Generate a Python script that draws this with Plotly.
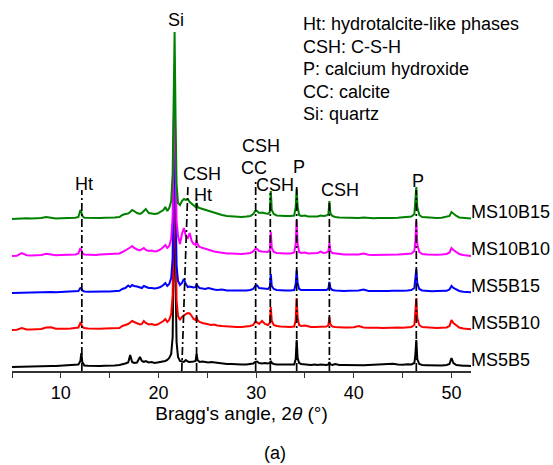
import plotly.graph_objects as go

# Diffraction angle grid (2-theta, degrees) shared by all patterns
two_theta = [
    5.0, 5.5, 6.0, 6.5, 7.0, 7.5, 8.0, 8.5, 9.0, 9.5, 10.0, 10.5, 11.0, 11.5,
    11.8, 12.0, 12.1, 12.2, 12.4,
    12.8, 13.2, 13.6, 14.0, 14.5, 15.0, 15.5, 16.0,
    16.3, 16.6, 16.9, 17.1, 17.3, 17.5, 17.8, 18.1, 18.3, 18.5, 18.7, 19.0, 19.3,
    19.6, 19.9, 20.2, 20.5, 20.7, 20.9, 21.1, 21.3,
    21.45, 21.55, 21.65, 21.75, 21.85,
    22.0, 22.2, 22.4, 22.6, 22.8, 23.0, 23.2, 23.4, 23.6, 23.8, 23.9, 24.0, 24.2,
    24.5, 24.8, 25.1, 25.4, 25.7, 26.0, 26.5, 27.0, 27.5, 28.0, 28.5, 29.0, 29.4, 29.7,
    29.9, 30.1, 30.3, 30.6, 30.9, 31.2, 31.4, 31.5, 31.6, 31.8, 32.1, 32.5, 33.0, 33.5, 33.9,
    34.05, 34.15, 34.25, 34.4, 34.6, 35.0, 35.3, 35.6, 36.0, 36.3, 36.6, 36.9, 37.2,
    37.4, 37.5, 37.6, 37.8, 38.1, 38.5,
    39.0, 39.5, 40.0, 40.5, 41.0, 41.5, 42.0, 42.5, 43.0, 43.5, 44.0, 44.5, 45.0, 45.5, 45.9, 46.2,
    46.3, 46.4, 46.5, 46.7, 47.0, 47.5, 48.0, 48.5, 49.0, 49.5, 49.8, 50.0, 50.2, 50.5, 50.8,
    51.2, 51.6, 52.0,
]

# Intensities (a.u.) of each sample on the grid above
ms5b5 = [
    0.0, 0.2, 0.1, 0.5, 0.4, 0.7, 0.6, 0.9, 1.1, 1.0, 1.4, 1.6, 1.9, 2.2,
    2.5, 6, 14, 5, 1.5,
    1.2, 1.0, 1.1, 0.9, 1.3, 1.2, 1.6, 2.0,
    2.5, 3.5, 4.5, 12, 5, 4, 4.5, 10, 6, 5, 6, 4.5, 5, 4, 4.5, 5, 5.5, 6, 7, 9, 13,
    30, 110, 180, 90, 25,
    10, 6, 5.5, 5, 7, 5.5, 5, 5, 5.5, 6, 13, 7, 5, 5.5, 5, 4.5, 5, 4.5, 4, 3.5, 3, 3,
    2.5, 2.5, 2.5, 3, 3.5,
    5, 5.5, 4, 3.5, 4, 3.5, 4, 6, 4, 3, 2.5, 2.5, 2, 2, 2.5,
    8, 27, 9, 4, 3, 2.5, 2.5, 2, 2.5, 2, 2.5, 2, 2, 2.5, 5, 2.5, 2, 3, 2,
    2, 1.8, 2, 1.5, 1.8, 2, 2.2, 2.5, 3, 2.5, 3.2, 2.5, 2.2, 2.8, 2.5, 4,
    12, 27, 8, 3, 2, 1.8, 1.5, 1.6, 1.5, 2, 3, 9, 4, 2, 1.5, 1.2, 1.3, 1.0,
]
ms5b10 = [
    0, 0.3, 2, 0.5, 0.4, 0.6, 1, 2.5, 2.8, 1.2, 1, 1.3, 1.5, 1.8,
    2.5, 7, 6, 3, 2,
    1.5, 1.2, 1.4, 1.3, 1.5, 1.6, 1.8, 2.0,
    4, 5, 6, 7.5, 9, 8, 7, 5.5, 6, 9, 7, 5.5, 6, 5, 5.5, 7, 9, 11, 8, 10, 16,
    35, 120, 175, 95, 30,
    14, 10, 13, 15, 16, 17, 16.5, 14, 11, 10, 13, 10, 8, 7, 6.5, 6, 5, 5.5, 4.5, 4, 3.5,
    3.5, 3, 3, 3.5, 4, 5,
    8, 7.5, 6, 9, 6, 5, 7, 23, 9, 5, 4, 3.5, 3, 3, 3.5,
    10, 32, 12, 5, 4, 4.5, 3.5, 3, 3, 3, 3.5, 3, 3.5, 5, 13, 6, 3.5, 3, 2.5,
    2.5, 2.5, 2.8, 4, 2.5, 2.2, 2.4, 2.2, 2, 2.3, 2.2, 2.5, 2.3, 2.6, 3, 5,
    15, 32, 12, 5, 3, 2.5, 2.2, 2, 2.2, 2.5, 4, 10, 7, 5, 2.5, 1.5, 1, 0.8,
]
ms5b15 = [
    0, 0.2, 0.5, 0.3, 0.4, 0.6, 0.8, 1.5, 1.0, 0.8, 0.9, 1.0, 1.2, 1.4,
    2, 5, 4.5, 2.5, 1.5,
    1.2, 1.4, 1.2, 1.5, 1.6, 1.5, 1.8, 2.2,
    4, 5, 7.5, 6, 8, 7, 6.5, 5.5, 5, 7, 6, 5, 5, 4.5, 5, 6, 8, 10, 7, 9, 15,
    35, 125, 168, 90, 28,
    12, 8, 10, 14, 9, 6, 6.5, 6, 5.5, 6, 9, 7, 5, 4.5, 4, 5, 4, 3.5, 3, 3.5, 2.5,
    2.5, 2, 2.5, 2.5, 3, 4,
    7, 7.5, 5, 4.5, 4, 4, 6, 19, 7, 4, 3, 2.5, 2.5, 2.5, 3,
    9, 23, 10, 4, 3, 3, 2.5, 2.5, 2.5, 2.5, 2.5, 2.5, 3, 4.5, 11, 5, 3, 2.5, 2,
    2, 2.2, 2, 2.5, 3.5, 2, 2, 1.8, 2, 2, 2.2, 2, 2.3, 2.5, 3, 5,
    12, 24, 10, 4, 2.5, 2, 1.8, 2, 2, 2.2, 3.5, 7, 5, 3.5, 2, 1.2, 1, 0.8,
]
ms10b10 = [
    0, 0.3, 3, 0.8, 0.5, 0.7, 1, 2.2, 1.2, 0.8, 0.9, 1, 1.2, 1.5,
    2.5, 8, 6, 3, 1.5,
    1.2, 1.3, 1.1, 1.4, 1.5, 1.6, 1.8, 2.5,
    4, 5.5, 7, 8.5, 10, 8, 6.5, 5.5, 7, 8, 6, 5, 5.5, 4.5, 5, 6.5, 9, 11, 8, 10, 17,
    40, 130, 160, 95, 35,
    20, 12, 22, 28, 20, 18, 23, 15, 12, 11, 16, 12, 9, 8, 7, 6.5, 5, 4.5, 4, 3, 2.5,
    2.5, 2, 2, 2.5, 3, 4.5,
    7, 7, 5, 4.5, 4, 4, 6, 24, 8, 4, 3, 2.5, 2.5, 2.5, 3.5,
    12, 36, 12, 4, 3, 3.5, 2.5, 2.5, 2.5, 3, 4.5, 3, 3.5, 5, 13, 5.5, 3, 2.5, 2,
    1.5, 1.5, 1.2, 1.5, 2.5, 1.2, 1, 1, 1.2, 1.5, 1.3, 1.5, 1.8, 2.5, 2.5, 5,
    14, 35, 12, 4, 2, 1.5, 1.2, 1.3, 1.5, 2, 3.5, 8, 6, 4, 2, 1, 0.5, 0,
]
ms10b15 = [
    0, 0.3, 0.5, 0.8, 0.4, 0.6, 1.0, 2.0, 1.2, 0.5, 0.8, 1.0, 0.9, 1.2,
    2, 9, 7, 3, 1.2,
    1, 0.8, 1.2, 1, 1.3, 1.2, 1.5, 2,
    4, 5, 5.5, 7, 9, 8, 6, 5, 6, 8, 10, 6, 5.5, 5, 5.5, 7, 9, 12, 8, 11, 18,
    45, 140, 187, 100, 35,
    16, 14, 18, 20, 19, 20, 17, 15, 13, 12, 16, 12, 11, 10, 9, 8, 7, 6.5, 5.5, 4, 3,
    2.5, 2, 2, 2.5, 3, 5,
    8, 8, 6, 6.5, 5.5, 5, 7, 28, 9, 5, 3.5, 3, 3, 3, 3.5,
    12, 30, 12, 4, 3, 3.5, 2.5, 2.5, 2.5, 2.5, 3.5, 3, 3.5, 5, 18, 6, 3, 2, 1.5,
    1.2, 1.0, 1.2, 1.0, 1.5, 1.0, 0.8, 1.0, 0.8, 1.2, 1.0, 1.2, 1.5, 2, 2.5, 5,
    15, 32, 12, 4, 2, 1.5, 1.2, 1.0, 1.2, 2, 3, 7, 5, 3, 1.5, 1, 0.8, 0.5,
]

sample_names = ["MS5B5", "MS5B10", "MS5B15", "MS10B10", "MS10B15"]
sample_data = [ms5b5, ms5b10, ms5b15, ms10b10, ms10b15]
sample_colors = ["#000000", "#ff0000", "#0000ff", "#ff00ff", "#008000"]
stack_step = 37      # vertical shift between successive patterns
stack_base = 4

# Reference phase lines: (2-theta at axis, 2-theta at top, top height)
phase_lines = [
    (12.15, 12.15, 181),
    (22.38, 23.02, 186),
    (23.9, 23.9, 172),
    (29.95, 29.95, 189),
    (31.45, 31.45, 178),
    (34.15, 34.15, 186),
    (37.5, 37.5, 171),
    (46.4, 46.4, 181),
]
# Phase labels: (text, 2-theta, height)
phase_labels = [
    ("Si", 21.75, 351),
    ("Ht", 12.37, 187),
    ("CSH", 24.46, 197),
    ("Ht", 24.56, 176),
    ("CSH", 30.5, 225),
    ("CC", 29.78, 203),
    ("CSH", 31.93, 186),
    ("P", 34.39, 204),
    ("CSH", 38.59, 181),
    ("P", 46.57, 190),
]
key_lines = [
    "Ht: hydrotalcite-like phases",
    "CSH: C-S-H",
    "P: calcium hydroxide",
    "CC: calcite",
    "Si: quartz",
]

FONT = "Arial, 'Liberation Sans', sans-serif"
TXT = 18
fig = go.Figure()

for i, (name, vals, col) in enumerate(zip(sample_names, sample_data, sample_colors)):
    shift = stack_base + stack_step * i
    fig.add_trace(go.Scatter(
        x=two_theta, y=[v + shift for v in vals], mode="lines", name=name,
        line=dict(color=col, width=2.0), showlegend=False, hoverinfo="skip"))
    fig.add_annotation(x=51.8, y=shift + 7, text=name, xref="x", yref="y",
                       xanchor="left", yanchor="middle", showarrow=False,
                       font=dict(size=TXT, color="black", family=FONT))

for x0, x1, top in phase_lines:
    fig.add_shape(type="line", xref="x", yref="y", x0=x0, y0=0, x1=x1, y1=top,
                  line=dict(color="black", width=1.7, dash="8px,3px,2px,3px"),
                  layer="above")

for txt, x, y in phase_labels:
    fig.add_annotation(x=x, y=y, text=txt, xref="x", yref="y", showarrow=False,
                       xanchor="center", yanchor="middle",
                       font=dict(size=TXT, color="black", family=FONT))

for k, line in enumerate(key_lines):
    fig.add_annotation(x=34.6, y=347 - 22.5 * k, text=line, xref="x", yref="y",
                       xanchor="left", yanchor="middle", showarrow=False,
                       font=dict(size=TXT, color="black", family=FONT))

fig.add_annotation(x=0.573, y=-0.227, xref="paper", yref="paper", text="(a)",
                   showarrow=False, xanchor="center", yanchor="middle",
                   font=dict(size=TXT, color="black", family=FONT))

fig.update_layout(
    width=553, height=465,
    margin=dict(l=12, r=82, t=10, b=94),
    paper_bgcolor="white", plot_bgcolor="white",
    font=dict(family=FONT, size=TXT, color="black"),
    xaxis=dict(
        range=[5, 52], tick0=0, dtick=10, ticks="outside", ticklen=5, tickwidth=1.2,
        tickcolor="#333", showline=True, linecolor="#333", linewidth=1.5,
        showgrid=False, zeroline=False,
        minor=dict(dtick=5, ticks="outside", ticklen=5, tickcolor="#333", showgrid=False),
        title=dict(text="Bragg's angle, 2<i>θ</i> (°)", standoff=3,
                   font=dict(size=19, family=FONT)),
        tickfont=dict(size=TXT, family=FONT),
    ),
    yaxis=dict(range=[0, 361], visible=False, showgrid=False, zeroline=False),
)

fig.write_html("out.html")
